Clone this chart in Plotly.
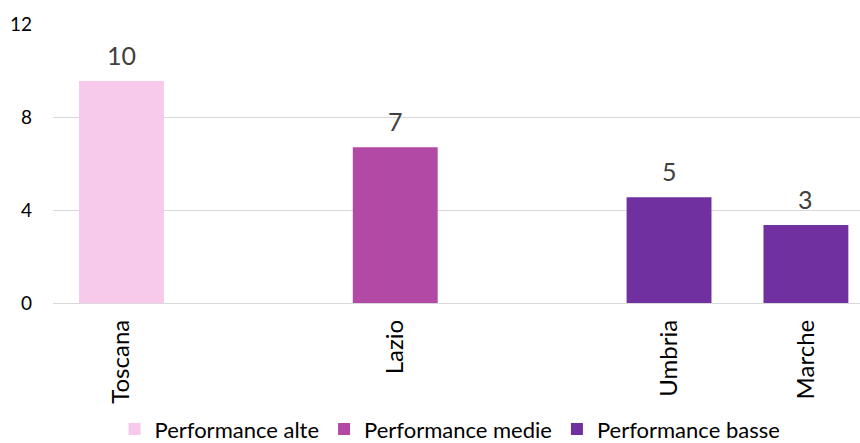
import plotly.graph_objects as go

# Regional values grouped by performance band
slots = ["Toscana", " ", "Lazio", "  ", "Umbria", "Marche"]

alte_regions = ["Toscana"]
alte_values = [9.55]

medie_regions = ["Lazio"]
medie_values = [6.7]

basse_regions = ["Umbria", "Marche"]
basse_values = [4.55, 3.35]

series = [
    ("Performance alte", alte_regions, alte_values, "#F7C9EB"),
    ("Performance medie", medie_regions, medie_values, "#B249A4"),
    ("Performance basse", basse_regions, basse_values, "#7030A0"),
]

font_family = "Lato, 'Noto Sans', sans-serif"

fig = go.Figure()
for name, regions, values, color in series:
    fig.add_trace(go.Bar(
        name=name,
        x=regions,
        y=values,
        width=0.62,
        marker=dict(color=color, line=dict(width=0)),
    ))
    # value labels above each bar, rounded half-up to whole numbers
    for region, value in zip(regions, values):
        fig.add_annotation(
            x=region,
            y=value,
            text=str(int(value + 0.5)),
            showarrow=False,
            yanchor="bottom",
            yshift=9,
            font=dict(size=25, color="#404040", family=font_family),
        )

fig.update_layout(
    width=860,
    height=443,
    barmode="overlay",
    plot_bgcolor="white",
    paper_bgcolor="white",
    margin=dict(l=53, r=0, t=24, b=140, autoexpand=False),
    font=dict(family=font_family, color="#000000"),
    showlegend=True,
    legend=dict(
        orientation="h",
        xref="paper",
        x=0.492,
        xanchor="center",
        yref="paper",
        y=-0.452,
        yanchor="middle",
        font=dict(size=22, color="#000000"),
        itemwidth=30,
        traceorder="normal",
    ),
)

fig.update_xaxes(
    type="category",
    categoryorder="array",
    categoryarray=slots,
    range=[-0.5, 5.395],
    tickangle=-90,
    tickfont=dict(size=24, color="#000000"),
    showgrid=False,
    showline=False,
    ticks="",
    ticklabelstandoff=11,
    automargin=False,
)

fig.update_yaxes(
    range=[0, 12],
    tickvals=[0, 4, 8, 12],
    tickfont=dict(size=19, color="#000000"),
    showgrid=True,
    gridcolor="#D9D9D9",
    gridwidth=1,
    zeroline=True,
    zerolinecolor="#D9D9D9",
    zerolinewidth=1,
    showline=False,
    ticks="",
    ticklabelstandoff=20,
    automargin=False,
)

fig.write_html("out.html")
